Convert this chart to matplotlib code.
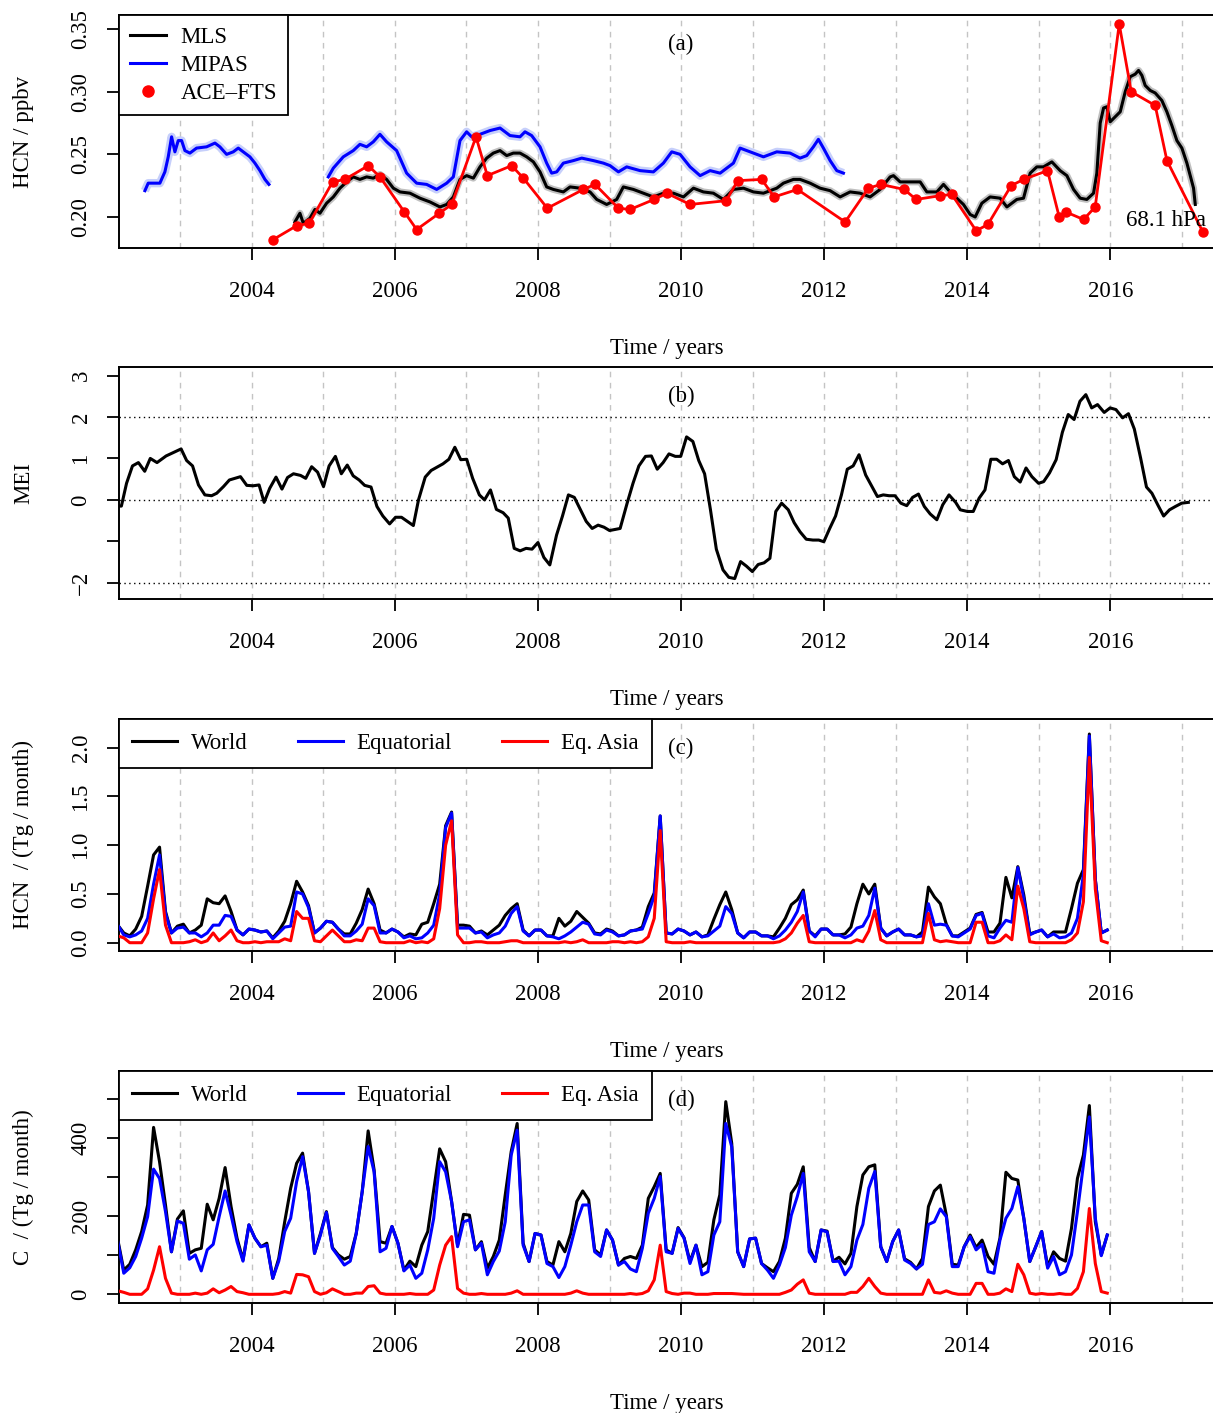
import numpy as np
import matplotlib.pyplot as plt
from matplotlib.lines import Line2D
from matplotlib.transforms import blended_transform_factory

plt.rcParams['font.family'] = ['Liberation Serif', 'DejaVu Serif']
plt.rcParams['font.size'] = 16.5
plt.rcParams['axes.linewidth'] = 1.4

# ---- panel (a): HCN at 68.1 hPa ----
mls_year = [2004.601, 2004.671, 2004.718, 2004.811, 2004.881, 2004.951, 2005.044, 2005.138, 2005.231,
            2005.324, 2005.417, 2005.510, 2005.604, 2005.697, 2005.790, 2005.883, 2005.977, 2006.070,
            2006.210, 2006.350, 2006.490, 2006.629, 2006.723, 2006.816, 2006.909, 2007.002, 2007.096,
            2007.189, 2007.282, 2007.375, 2007.469, 2007.562, 2007.655, 2007.748, 2007.842, 2007.935,
            2008.028, 2008.121, 2008.214, 2008.354, 2008.448, 2008.587, 2008.727, 2008.821, 2008.960,
            2009.100, 2009.193, 2009.333, 2009.473, 2009.613, 2009.753, 2009.893, 2010.033, 2010.173,
            2010.312, 2010.452, 2010.592, 2010.732, 2010.872, 2011.012, 2011.152, 2011.338, 2011.431,
            2011.571, 2011.664, 2011.804, 2011.944, 2012.084, 2012.224, 2012.363, 2012.503, 2012.643,
            2012.783, 2012.923, 2012.970, 2013.063, 2013.203, 2013.343, 2013.436, 2013.576, 2013.669,
            2013.762, 2013.855, 2013.948, 2014.042, 2014.112, 2014.205, 2014.321, 2014.461, 2014.555,
            2014.694, 2014.788, 2014.881, 2014.974, 2015.067, 2015.184, 2015.300, 2015.394, 2015.487,
            2015.580, 2015.673, 2015.767, 2015.813, 2015.860, 2015.907, 2015.953, 2016.000, 2016.070,
            2016.140, 2016.210, 2016.280, 2016.349, 2016.396, 2016.443, 2016.489, 2016.559, 2016.629,
            2016.722, 2016.792, 2016.862, 2016.932, 2017.002, 2017.072, 2017.128, 2017.165, 2017.189]
mls_val = [0.196, 0.203, 0.195, 0.199, 0.206, 0.203, 0.211, 0.216, 0.223,
           0.228, 0.232, 0.230, 0.232, 0.231, 0.234, 0.230, 0.223, 0.220,
           0.219, 0.215, 0.212, 0.208, 0.210, 0.216, 0.230, 0.233, 0.231,
           0.240, 0.247, 0.251, 0.253, 0.249, 0.251, 0.251, 0.248, 0.244,
           0.236, 0.224, 0.222, 0.220, 0.224, 0.223, 0.220, 0.214, 0.210,
           0.214, 0.224, 0.222, 0.219, 0.216, 0.219, 0.219, 0.216, 0.223,
           0.220, 0.219, 0.214, 0.222, 0.223, 0.220, 0.219, 0.223, 0.227,
           0.230, 0.230, 0.227, 0.223, 0.221, 0.216, 0.220, 0.219, 0.216,
           0.222, 0.232, 0.233, 0.228, 0.228, 0.228, 0.220, 0.220, 0.226,
           0.220, 0.215, 0.210, 0.202, 0.200, 0.211, 0.216, 0.215, 0.208,
           0.214, 0.215, 0.235, 0.240, 0.240, 0.244, 0.237, 0.233, 0.222,
           0.215, 0.214, 0.219, 0.235, 0.275, 0.287, 0.288, 0.276, 0.280,
           0.284, 0.300, 0.312, 0.314, 0.317, 0.313, 0.305, 0.301, 0.299,
           0.293, 0.284, 0.273, 0.261, 0.255, 0.243, 0.231, 0.223, 0.210]

mipas1_year = [2002.504, 2002.550, 2002.713, 2002.783, 2002.830, 2002.877, 2002.923, 2002.970,
               2003.017, 2003.063, 2003.133, 2003.226, 2003.366, 2003.483, 2003.552, 2003.646,
               2003.739, 2003.809, 2003.902, 2003.972, 2004.042, 2004.112, 2004.182, 2004.238]
mipas1_val = [0.221, 0.227, 0.227, 0.236, 0.248, 0.264, 0.252, 0.261,
              0.261, 0.253, 0.251, 0.255, 0.256, 0.259, 0.256, 0.250,
              0.252, 0.255, 0.251, 0.248, 0.243, 0.237, 0.230, 0.226]

mipas2_year = [2005.068, 2005.138, 2005.277, 2005.417, 2005.510, 2005.604, 2005.697, 2005.790,
               2005.883, 2006.023, 2006.163, 2006.303, 2006.443, 2006.583, 2006.723, 2006.816,
               2006.909, 2007.002, 2007.072, 2007.189, 2007.329, 2007.469, 2007.608, 2007.748,
               2007.818, 2007.911, 2008.028, 2008.121, 2008.191, 2008.261, 2008.354, 2008.494,
               2008.611, 2008.774, 2008.914, 2009.007, 2009.124, 2009.240, 2009.427, 2009.613,
               2009.753, 2009.870, 2009.986, 2010.126, 2010.266, 2010.406, 2010.546, 2010.662,
               2010.732, 2010.825, 2010.919, 2011.012, 2011.152, 2011.338, 2011.524, 2011.664,
               2011.757, 2011.850, 2011.920, 2011.990, 2012.084, 2012.177, 2012.270]
mipas2_val = [0.232, 0.239, 0.248, 0.253, 0.258, 0.256, 0.260, 0.266,
              0.260, 0.253, 0.235, 0.227, 0.226, 0.222, 0.227, 0.232,
              0.261, 0.268, 0.264, 0.266, 0.269, 0.271, 0.265, 0.264,
              0.268, 0.265, 0.256, 0.243, 0.235, 0.236, 0.243, 0.245,
              0.247, 0.245, 0.243, 0.241, 0.236, 0.240, 0.237, 0.236,
              0.243, 0.252, 0.250, 0.240, 0.233, 0.237, 0.235, 0.240,
              0.243, 0.255, 0.253, 0.251, 0.248, 0.252, 0.251, 0.247,
              0.249, 0.256, 0.262, 0.255, 0.245, 0.237, 0.235]

ace_year = [2004.298, 2004.625, 2004.802, 2005.128, 2005.301, 2005.627, 2005.790, 2006.131,
            2006.303, 2006.620, 2006.793, 2007.133, 2007.291, 2007.632, 2007.795, 2008.130,
            2008.634, 2008.797, 2009.124, 2009.287, 2009.622, 2009.800, 2010.126, 2010.629,
            2010.793, 2011.128, 2011.301, 2011.627, 2012.294, 2012.620, 2012.793, 2013.119,
            2013.287, 2013.622, 2013.786, 2014.126, 2014.289, 2014.615, 2014.788, 2015.123,
            2015.287, 2015.380, 2015.627, 2015.790, 2016.126, 2016.294, 2016.629, 2016.793,
            2017.296]
ace_val = [0.182, 0.193, 0.195, 0.228, 0.230, 0.241, 0.232, 0.204,
           0.190, 0.203, 0.210, 0.264, 0.233, 0.241, 0.231, 0.207,
           0.222, 0.226, 0.207, 0.206, 0.214, 0.219, 0.210, 0.213,
           0.229, 0.230, 0.216, 0.222, 0.196, 0.223, 0.226, 0.222,
           0.214, 0.217, 0.218, 0.189, 0.194, 0.225, 0.230, 0.237,
           0.200, 0.204, 0.198, 0.208, 0.354, 0.300, 0.289, 0.245,
           0.188]

# ---- panel (b): MEI ----
mei_year = [2002.136, 2002.175, 2002.247, 2002.330, 2002.413, 2002.501, 2002.579, 2002.673, 2002.800,
            2002.910, 2003.010, 2003.087, 2003.170, 2003.253, 2003.342, 2003.436, 2003.508, 2003.602,
            2003.685, 2003.840, 2003.928, 2004.017, 2004.100, 2004.171, 2004.249, 2004.337, 2004.420,
            2004.498, 2004.581, 2004.680, 2004.752, 2004.835, 2004.918, 2005.001, 2005.079, 2005.167,
            2005.250, 2005.333, 2005.416, 2005.499, 2005.576, 2005.665, 2005.748, 2005.831, 2005.925,
            2006.008, 2006.091, 2006.174, 2006.257, 2006.329, 2006.423, 2006.506, 2006.589, 2006.671,
            2006.754, 2006.837, 2006.920, 2007.003, 2007.086, 2007.180, 2007.252, 2007.335, 2007.418,
            2007.512, 2007.584, 2007.667, 2007.750, 2007.833, 2007.916, 2007.999, 2008.082, 2008.165,
            2008.259, 2008.342, 2008.425, 2008.508, 2008.591, 2008.674, 2008.757, 2008.840, 2008.923,
            2009.000, 2009.148, 2009.246, 2009.328, 2009.410, 2009.503, 2009.585, 2009.667, 2009.749,
            2009.831, 2009.919, 2009.995, 2010.077, 2010.165, 2010.247, 2010.329, 2010.411, 2010.493,
            2010.586, 2010.668, 2010.750, 2010.832, 2010.914, 2010.996, 2011.078, 2011.160, 2011.242,
            2011.324, 2011.406, 2011.499, 2011.581, 2011.663, 2011.750, 2011.843, 2011.925, 2011.996,
            2012.078, 2012.160, 2012.242, 2012.324, 2012.406, 2012.488, 2012.581, 2012.663, 2012.745,
            2012.827, 2012.909, 2012.991, 2013.073, 2013.155, 2013.237, 2013.319, 2013.401, 2013.483,
            2013.576, 2013.658, 2013.746, 2013.839, 2013.904, 2014.003, 2014.085, 2014.167, 2014.249,
            2014.331, 2014.413, 2014.495, 2014.577, 2014.659, 2014.741, 2014.823, 2014.905, 2014.998,
            2015.069, 2015.151, 2015.244, 2015.331, 2015.413, 2015.495, 2015.577, 2015.659, 2015.741,
            2015.823, 2015.916, 2015.998, 2016.080, 2016.173, 2016.255, 2016.337, 2016.425, 2016.507,
            2016.583, 2016.665, 2016.747, 2016.829, 2016.911, 2016.999, 2017.092]
mei_val = [-0.15, -0.15, 0.40, 0.82, 0.90, 0.69, 1.00, 0.90, 1.06,
           1.15, 1.23, 0.95, 0.82, 0.36, 0.12, 0.10, 0.16, 0.32,
           0.48, 0.56, 0.35, 0.34, 0.36, -0.06, 0.28, 0.55, 0.26,
           0.54, 0.63, 0.59, 0.52, 0.80, 0.67, 0.32, 0.82, 1.05,
           0.63, 0.84, 0.58, 0.48, 0.35, 0.31, -0.16, -0.39, -0.58,
           -0.42, -0.42, -0.52, -0.62, 0.00, 0.55, 0.71, 0.79, 0.87,
           0.98, 1.27, 0.97, 0.98, 0.52, 0.12, 0.00, 0.24, -0.23,
           -0.31, -0.44, -1.17, -1.23, -1.17, -1.19, -1.03, -1.39, -1.57,
           -0.85, -0.39, 0.12, 0.06, -0.23, -0.52, -0.69, -0.61, -0.66,
           -0.74, -0.69, -0.08, 0.40, 0.82, 1.05, 1.06, 0.74, 0.90,
           1.11, 1.05, 1.05, 1.52, 1.41, 0.95, 0.63, -0.24, -1.19,
           -1.69, -1.87, -1.90, -1.49, -1.60, -1.73, -1.56, -1.52, -1.41,
           -0.28, -0.08, -0.24, -0.55, -0.77, -0.95, -0.97, -0.97, -1.01,
           -0.69, -0.39, 0.12, 0.74, 0.82, 1.09, 0.60, 0.34, 0.08,
           0.12, 0.10, 0.10, -0.08, -0.14, 0.06, 0.14, -0.16, -0.34,
           -0.48, -0.12, 0.12, -0.06, -0.24, -0.28, -0.28, 0.04, 0.24,
           0.98, 0.98, 0.87, 0.95, 0.56, 0.43, 0.77, 0.56, 0.40,
           0.44, 0.65, 0.97, 1.63, 2.06, 1.94, 2.38, 2.54, 2.22,
           2.30, 2.11, 2.22, 2.18, 1.98, 2.08, 1.71, 1.01, 0.31,
           0.16, -0.12, -0.39, -0.24, -0.16, -0.08, -0.06]

# ---- panels (c), (d): monthly fire emissions from Feb 2002 ----
emis_start = 2002.125
hcn_world = [0.18, 0.10, 0.07, 0.14, 0.27, 0.58, 0.90, 0.98, 0.32, 0.10,
             0.17, 0.19, 0.10, 0.13, 0.18, 0.45, 0.41, 0.40, 0.48, 0.32,
             0.13, 0.08, 0.14, 0.13, 0.11, 0.12, 0.05, 0.12, 0.22, 0.40,
             0.63, 0.52, 0.38, 0.10, 0.15, 0.22, 0.21, 0.14, 0.09, 0.09,
             0.20, 0.34, 0.55, 0.40, 0.13, 0.10, 0.14, 0.11, 0.06, 0.09,
             0.08, 0.19, 0.21, 0.40, 0.60, 1.20, 1.34, 0.18, 0.18, 0.17,
             0.10, 0.12, 0.08, 0.13, 0.18, 0.28, 0.35, 0.40, 0.13, 0.07,
             0.13, 0.13, 0.07, 0.07, 0.25, 0.17, 0.22, 0.32, 0.26, 0.20,
             0.10, 0.09, 0.14, 0.12, 0.07, 0.08, 0.12, 0.13, 0.16, 0.37,
             0.51, 1.30, 0.10, 0.09, 0.14, 0.12, 0.08, 0.11, 0.06, 0.08,
             0.24, 0.39, 0.52, 0.34, 0.10, 0.05, 0.11, 0.11, 0.07, 0.07,
             0.06, 0.15, 0.25, 0.39, 0.44, 0.54, 0.12, 0.07, 0.14, 0.14,
             0.08, 0.08, 0.09, 0.16, 0.40, 0.60, 0.50, 0.60, 0.15, 0.07,
             0.11, 0.14, 0.08, 0.08, 0.06, 0.11, 0.57, 0.47, 0.40, 0.19,
             0.07, 0.07, 0.11, 0.15, 0.29, 0.31, 0.11, 0.11, 0.20, 0.67,
             0.46, 0.78, 0.49, 0.09, 0.11, 0.13, 0.06, 0.11, 0.11, 0.11,
             0.35, 0.61, 0.75, 2.14, 0.65, 0.10, 0.13]
hcn_equat = [0.18, 0.08, 0.06, 0.08, 0.12, 0.25, 0.60, 0.90, 0.30, 0.10,
             0.15, 0.16, 0.10, 0.10, 0.06, 0.10, 0.18, 0.18, 0.28, 0.27,
             0.13, 0.08, 0.14, 0.13, 0.11, 0.12, 0.04, 0.10, 0.16, 0.17,
             0.52, 0.50, 0.36, 0.10, 0.15, 0.22, 0.21, 0.14, 0.07, 0.07,
             0.12, 0.19, 0.45, 0.38, 0.10, 0.10, 0.14, 0.11, 0.05, 0.07,
             0.04, 0.05, 0.10, 0.18, 0.50, 1.18, 1.33, 0.15, 0.15, 0.15,
             0.10, 0.11, 0.05, 0.08, 0.10, 0.17, 0.30, 0.37, 0.12, 0.07,
             0.13, 0.13, 0.07, 0.06, 0.04, 0.07, 0.11, 0.16, 0.21, 0.19,
             0.09, 0.08, 0.13, 0.11, 0.07, 0.08, 0.12, 0.13, 0.14, 0.30,
             0.48, 1.30, 0.10, 0.09, 0.14, 0.12, 0.08, 0.11, 0.06, 0.07,
             0.12, 0.17, 0.37, 0.30, 0.10, 0.05, 0.11, 0.11, 0.07, 0.07,
             0.04, 0.07, 0.13, 0.21, 0.32, 0.52, 0.12, 0.06, 0.14, 0.14,
             0.08, 0.08, 0.05, 0.08, 0.15, 0.17, 0.28, 0.56, 0.15, 0.07,
             0.11, 0.14, 0.08, 0.08, 0.06, 0.07, 0.40, 0.18, 0.19, 0.18,
             0.07, 0.06, 0.10, 0.14, 0.28, 0.30, 0.07, 0.05, 0.15, 0.23,
             0.21, 0.77, 0.45, 0.08, 0.11, 0.13, 0.06, 0.09, 0.05, 0.06,
             0.10, 0.25, 0.70, 2.12, 0.65, 0.10, 0.13]
hcn_asia = [0.07, 0.05, 0.00, 0.00, 0.00, 0.10, 0.45, 0.75, 0.18, 0.00,
            0.00, 0.00, 0.01, 0.03, 0.00, 0.02, 0.10, 0.02, 0.07, 0.13,
            0.02, 0.00, 0.00, 0.01, 0.00, 0.01, 0.01, 0.01, 0.04, 0.02,
            0.32, 0.25, 0.25, 0.02, 0.01, 0.07, 0.13, 0.07, 0.01, 0.01,
            0.03, 0.02, 0.15, 0.15, 0.01, 0.00, 0.00, 0.00, 0.00, 0.02,
            0.00, 0.01, 0.00, 0.04, 0.35, 1.00, 1.25, 0.08, 0.00, 0.00,
            0.01, 0.01, 0.00, 0.00, 0.00, 0.01, 0.02, 0.02, 0.00, 0.00,
            0.00, 0.00, 0.00, 0.00, 0.00, 0.01, 0.00, 0.01, 0.03, 0.00,
            0.00, 0.00, 0.00, 0.01, 0.01, 0.00, 0.01, 0.00, 0.01, 0.06,
            0.25, 1.15, 0.01, 0.00, 0.00, 0.00, 0.01, 0.00, 0.00, 0.00,
            0.00, 0.00, 0.00, 0.00, 0.00, 0.00, 0.00, 0.00, 0.00, 0.00,
            0.00, 0.01, 0.04, 0.10, 0.20, 0.28, 0.01, 0.00, 0.00, 0.00,
            0.00, 0.00, 0.00, 0.00, 0.03, 0.01, 0.12, 0.33, 0.03, 0.00,
            0.00, 0.00, 0.00, 0.00, 0.00, 0.00, 0.30, 0.03, 0.01, 0.02,
            0.01, 0.00, 0.00, 0.00, 0.21, 0.21, 0.00, 0.00, 0.02, 0.08,
            0.03, 0.58, 0.35, 0.01, 0.00, 0.00, 0.00, 0.00, 0.00, 0.00,
            0.03, 0.10, 0.42, 1.90, 0.55, 0.02, 0.00]

c_world = [140, 62, 77, 114, 161, 229, 428, 340, 229, 109,
           193, 214, 105, 114, 118, 231, 191, 246, 325, 225,
           144, 88, 178, 144, 122, 131, 41, 92, 186, 272,
           336, 362, 263, 105, 156, 212, 120, 101, 90, 97,
           156, 263, 419, 319, 135, 131, 174, 131, 62, 85,
           71, 126, 161, 268, 373, 340, 238, 126, 205, 203,
           114, 135, 67, 97, 139, 255, 366, 438, 131, 84,
           156, 152, 84, 75, 135, 109, 156, 238, 265, 242,
           114, 101, 165, 139, 75, 92, 97, 92, 126, 246,
           276, 310, 114, 105, 171, 145, 84, 126, 71, 82,
           191, 255, 494, 387, 109, 71, 142, 144, 79, 68,
           58, 84, 144, 259, 282, 327, 120, 84, 165, 162,
           85, 95, 78, 105, 225, 306, 327, 332, 122, 84,
           135, 165, 91, 82, 65, 92, 225, 265, 280, 203,
           77, 75, 122, 152, 120, 139, 97, 77, 144, 313,
           297, 293, 195, 84, 122, 161, 71, 109, 92, 85,
           169, 297, 357, 484, 186, 101, 152]
c_equat = [135, 54, 68, 97, 144, 199, 321, 297, 212, 109,
           188, 182, 90, 101, 60, 114, 128, 199, 265, 203,
           135, 85, 178, 144, 122, 126, 41, 85, 161, 195,
           289, 353, 263, 105, 152, 210, 118, 97, 75, 85,
           156, 263, 379, 314, 109, 118, 174, 131, 60, 75,
           41, 54, 114, 195, 340, 314, 238, 122, 186, 191,
           114, 131, 50, 84, 111, 186, 357, 421, 126, 84,
           156, 152, 79, 71, 43, 71, 126, 186, 229, 229,
           109, 97, 165, 139, 75, 84, 65, 58, 118, 208,
           246, 302, 109, 105, 169, 144, 79, 126, 50, 58,
           152, 186, 438, 378, 109, 71, 142, 144, 79, 62,
           41, 75, 120, 203, 251, 310, 109, 84, 165, 160,
           84, 85, 50, 71, 139, 179, 272, 315, 122, 84,
           135, 165, 88, 79, 65, 77, 179, 186, 219, 199,
           71, 71, 122, 148, 114, 128, 58, 54, 139, 195,
           220, 276, 195, 84, 122, 161, 67, 97, 50, 58,
           101, 212, 332, 455, 195, 99, 152]
c_asia = [9, 5, 0, 0, 0, 14, 62, 122, 41, 3,
          0, 0, 0, 3, 0, 3, 14, 4, 11, 20,
          7, 4, 0, 0, 0, 0, 0, 2, 7, 3,
          51, 50, 45, 7, 0, 4, 14, 7, 0, 0,
          3, 3, 20, 22, 3, 0, 0, 0, 0, 2,
          0, 0, 0, 11, 75, 126, 148, 15, 3, 0,
          0, 2, 0, 0, 0, 0, 3, 9, 0, 0,
          0, 0, 0, 0, 0, 0, 3, 9, 3, 0,
          0, 0, 0, 0, 0, 0, 2, 0, 2, 9,
          37, 126, 7, 2, 0, 3, 3, 0, 0, 0,
          2, 2, 2, 2, 1, 0, 0, 0, 0, 0,
          0, 0, 5, 11, 26, 37, 3, 0, 0, 0,
          0, 0, 0, 5, 5, 20, 41, 20, 3, 0,
          0, 0, 0, 0, 0, 0, 37, 5, 3, 9,
          3, 0, 0, 0, 28, 28, 0, 0, 3, 14,
          7, 77, 50, 3, 0, 2, 0, 0, 2, 0,
          0, 15, 58, 220, 79, 7, 3]

emis_year = emis_start + np.arange(len(hcn_world)) / 12.0

# ---- figure ----
fig = plt.figure(figsize=(12.13, 14.13), dpi=100)
W, H = 1213.0, 1413.0
left_px, right_px = 118.6, 1215.0
panel_px = [(15.3, 248.3), (367.3, 599.3), (719.0, 951.0), (1071.0, 1303.0)]
axes = []
for top, bot in panel_px:
    axes.append(fig.add_axes([left_px / W, 1 - bot / H, (right_px - left_px) / W, (bot - top) / H]))


def style(ax, ylim, yticks, ylabels, ylabel, tag):
    ax.set_xlim(2002.136, 2017.465)
    ax.set_ylim(*ylim)
    for yr in range(2003, 2018):
        ax.axvline(yr, color='#c4c4c4', ls=(0, (4, 4)), lw=1.0, zorder=0)
    ax.set_xticks(range(2004, 2017, 2))
    ax.set_yticks(yticks)
    ax.set_yticklabels(ylabels, rotation=90, va='center')
    ax.tick_params(direction='out', length=8.5, width=1.3, top=False, right=False, labelsize=16.5)
    ax.tick_params(axis='x', pad=15)
    ax.tick_params(axis='y', pad=11)
    ax.set_xlabel('Time / years', labelpad=26)
    ax.set_ylabel(ylabel, labelpad=26)
    tr = blended_transform_factory(ax.transData, ax.transAxes)
    ax.text(2010.0, 0.875, tag, transform=tr, ha='center', va='center', fontsize=16.5)


# (a)
ax = axes[0]
ax.plot(mipas1_year, mipas1_val, color='#c6cffb', lw=6, zorder=1, solid_capstyle='butt')
ax.plot(mipas2_year, mipas2_val, color='#c6cffb', lw=6, zorder=1, solid_capstyle='butt')
ax.plot(mls_year, mls_val, color='#c0c0c0', lw=5, zorder=1, solid_capstyle='butt')
ax.plot(mipas1_year, mipas1_val, color='blue', lw=2.2, zorder=2)
ax.plot(mipas2_year, mipas2_val, color='blue', lw=2.2, zorder=2)
ax.plot(mls_year, mls_val, color='black', lw=2.2, zorder=3)
ax.plot(ace_year, ace_val, color='red', lw=2.0, marker='o', ms=6.5, zorder=4)
style(ax, (0.175, 0.361), [0.20, 0.25, 0.30, 0.35], ['0.20', '0.25', '0.30', '0.35'],
      'HCN / ppbv', '(a)')
ax.text(2017.34, 0.1975, '68.1 hPa', ha='right', va='center', fontsize=16.5, zorder=5)
h = [Line2D([], [], color='black', lw=2.2), Line2D([], [], color='blue', lw=2.2),
     Line2D([], [], color='red', ls='none', marker='o', ms=8)]
leg = ax.legend(h, ['MLS', 'MIPAS', 'ACE\u2013FTS'], loc='upper left', bbox_to_anchor=(0, 1),
                borderaxespad=0, fancybox=False, edgecolor='black', framealpha=1,
                handlelength=1.55, handletextpad=0.65, labelspacing=0.3, borderpad=0.5,
                numpoints=1, fontsize=16.5)
leg.get_frame().set_linewidth(1.3)

# (b)
ax = axes[1]
for v in (-2, 0, 2):
    ax.axhline(v, color='black', ls=(0, (1, 2.5)), lw=1.0, zorder=1)
ax.plot(mei_year, mei_val, color='black', lw=2.2, zorder=3)
style(ax, (-2.40, 3.20), [-2, -1, 0, 1, 2, 3], ['\u22122', '', '0', '1', '2', '3'], 'MEI', '(b)')

# (c) and (d)
for ax, series, ylim, yt, yl, ylab, tag in [
        (axes[2], (hcn_world, hcn_equat, hcn_asia), (-0.085, 2.294),
         [0.0, 0.5, 1.0, 1.5, 2.0], ['0.0', '0.5', '1.0', '1.5', '2.0'], 'HCN  / (Tg / month)', '(c)'),
        (axes[3], (c_world, c_equat, c_asia), (-22.3, 572.6),
         [0, 100, 200, 300, 400, 500], ['0', '', '200', '', '400', ''], 'C  / (Tg / month)', '(d)')]:
    for vals, col, z in zip(series, ('black', 'blue', 'red'), (2, 3, 4)):
        ax.plot(emis_year, vals, color=col, lw=2.2, zorder=z)
    style(ax, ylim, yt, yl, ylab, tag)
    h = [Line2D([], [], color=c, lw=2.2) for c in ('black', 'blue', 'red')]
    leg = ax.legend(h, ['World', 'Equatorial', 'Eq. Asia'], loc='upper left', bbox_to_anchor=(0, 1),
                    borderaxespad=0, fancybox=False, edgecolor='black', framealpha=1, ncol=3,
                    handlelength=1.95, handletextpad=0.6, columnspacing=2.2, borderpad=0.6,
                    fontsize=16.5)
    leg.get_frame().set_linewidth(1.3)

fig.savefig('out.png', dpi=100)
